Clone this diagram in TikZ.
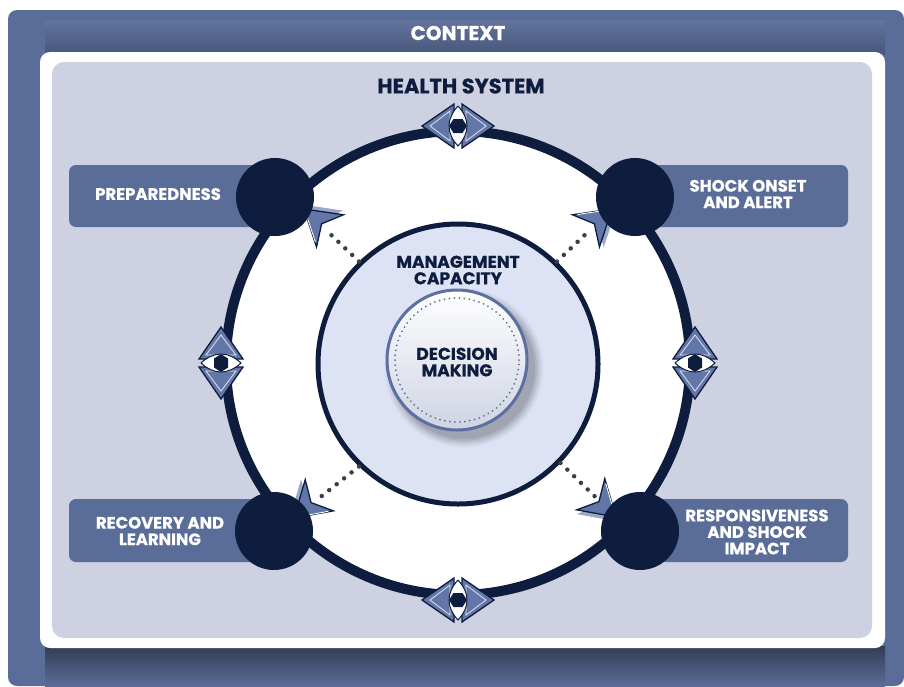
\documentclass[tikz,border=0pt]{standalone}
\usepackage{fontspec}
\setmainfont{Poppins}[BoldFeatures={FakeBold=0.6}]
\usetikzlibrary{calc}

\definecolor{navy}{HTML}{0E1D3D}
\definecolor{frameblue}{HTML}{5A6D99}
\definecolor{panelgray}{HTML}{CDD1E2}
\definecolor{mcfill}{HTML}{DDE3F4}
\definecolor{arrowblue}{HTML}{6277A8}
\definecolor{dotgray}{HTML}{3A3F4A}
\definecolor{dmring}{HTML}{5B6FA0}

\tikzset{
  labelbox/.style={fill=frameblue, rounded corners=7pt},
  labeltext/.style={text=white, font=\bfseries\fontsize{16.5}{16.5}\selectfont, align=center},
  hub/.style={circle, fill=navy, minimum size=78pt, inner sep=0pt},
  titletext/.style={text=navy, font=\bfseries\fontsize{17}{16.5}\selectfont, align=center},
  dotline/.style={dotgray, line width=4.5pt, line cap=round, dash pattern=on 0pt off 9.5pt},
  % double arrow sitting on the ring, pointing both ways along it
  ringarrow/.pic={
    \foreach \s in {1,-1}{
      \filldraw[fill=arrowblue, draw=navy, line width=1.3pt, line join=miter]
        (\s*36,0) -- (\s*4,-22) -- (\s*4,22) -- cycle;
      \draw[white!80!arrowblue, line width=0.8pt] (\s*28,0) -- (\s*8,-15) -- (\s*8,15) -- cycle;
    }
    \filldraw[fill=white, draw=navy, line width=1pt]
      (0,-20) .. controls (12,-7) and (12,7) .. (0,20)
              .. controls (-12,7) and (-12,-7) .. (0,-20);
    \fill[navy] (-9,0) -- (-4.5,-7) -- (4.5,-7) -- (9,0) -- (4.5,7) -- (-4.5,7) -- cycle;
  },
  % stealth-like pointer, tip at the origin, pointing along +x
  pointer/.pic={
    \fill[arrowblue!80, opacity=0.8] (3,3) -- (-31,-18) -- (-21,3) -- (-31,24) -- cycle;
    \filldraw[fill=arrowblue, draw=navy, line width=1.3pt, line join=miter]
      (0,0) -- (-34,-21) -- (-23,0) -- (-34,21) -- cycle;
    \draw[white, line width=0.9pt] (-4,-2) -- (-30,-18);
  }
}

\begin{document}
\begin{tikzpicture}[x=1pt, y=-1pt]
  \useasboundingbox (0,0) rectangle (904,686);

  % outer context frame
  \fill[frameblue, rounded corners=9pt] (8,10) rectangle (904,686);
  \shade[top color=frameblue!95!white, bottom color=frameblue!80!black] (45,20) rectangle (885,54);
  \shade[top color=frameblue!55!black, bottom color=frameblue] (45,646) rectangle (885,686);

  % white border and health system panel
  \fill[white, rounded corners=10pt] (40,52) rectangle (885,648);
  \fill[panelgray, rounded corners=12pt] (52,62) rectangle (872,638);

  \node[text=white, font=\bfseries\fontsize{20}{20}\selectfont] (context) at (458,33) {CONTEXT};
  \node[text=navy, font=\bfseries\fontsize{21}{21}\selectfont] (health) at (461,86) {HEALTH SYSTEM};

  % phase label boxes
  \fill[labelbox] (69,165) rectangle (285,227);
  \fill[labelbox] (625,165) rectangle (848,227);
  \fill[labelbox] (69,499) rectangle (285,562);
  \fill[labelbox] (625,499) rectangle (848,562);

  % cycle ring
  \node[circle, fill=white, draw=navy, line width=10pt, minimum size=464pt, inner sep=0pt] (ring) at (458,363) {};

  % management capacity and decision making
  \node[circle, fill=mcfill, draw=navy, line width=5pt, minimum size=280pt, inner sep=0pt] (mc) at (458,364) {};
  \foreach \r/\o in {79/0.04, 77/0.05, 75/0.06, 73/0.07, 71/0.08}
    \fill[black, opacity=\o] (464,368) circle[radius=\r pt];
  \node[circle, top color=white, bottom color=mcfill!85!gray, draw=dmring, line width=3pt,
        minimum size=140pt, inner sep=0pt] (dm) at (457,360) {};
  \draw[dmring, line width=2pt, line cap=round, dash pattern=on 0pt off 5pt] (dm.center) circle[radius=62pt];

  \node[titletext] (mclabel) at (458,270) {MANAGEMENT\\CAPACITY};
  \node[titletext] (dmlabel) at (457,362) {DECISION\\MAKING};

  % pointers towards the phase hubs
  \coordinate (ptl) at (304,209);
  \coordinate (ptr) at (612,209);
  \coordinate (pbl) at (294,518);
  \coordinate (pbr) at (616,517);
  \draw[dotline] (mc.134) -- ($(ptl)!0.38!(mc.134)$);
  \draw[dotline] (mc.46)  -- ($(ptr)!0.38!(mc.46)$);
  \draw[dotline] (mc.226) -- ($(pbl)!0.38!(mc.226)$);
  \draw[dotline] (mc.316) -- ($(pbr)!0.38!(mc.316)$);
  \pic[rotate=140] at (ptl) {pointer};
  \pic[rotate=40]  at (ptr) {pointer};
  \pic[rotate=222] at (pbl) {pointer};
  \pic[rotate=318] at (pbr) {pointer};

  % phase hubs
  \node[hub] (hubtl) at (275,197) {};
  \node[hub] (hubtr) at (635,197) {};
  \node[hub] (hubbl) at (274,531) {};
  \node[hub] (hubbr) at (640,531) {};

  % double arrows on the ring
  \pic at (ring.north) {ringarrow};
  \pic at (ring.south) {ringarrow};
  \pic[rotate=90] at (ring.west) {ringarrow};
  \pic[rotate=90] at (ring.east) {ringarrow};

  % phase labels
  \node[labeltext] (prep) at (158,194) {PREPAREDNESS};
  \node[labeltext] (shock) at (748,194) {SHOCK ONSET\\AND ALERT};
  \node[labeltext] (recov) at (160,531) {RECOVERY AND\\LEARNING};
  \node[labeltext] (resp) at (757,532) {RESPONSIVENESS\\AND SHOCK\\IMPACT};
\end{tikzpicture}
\end{document}
